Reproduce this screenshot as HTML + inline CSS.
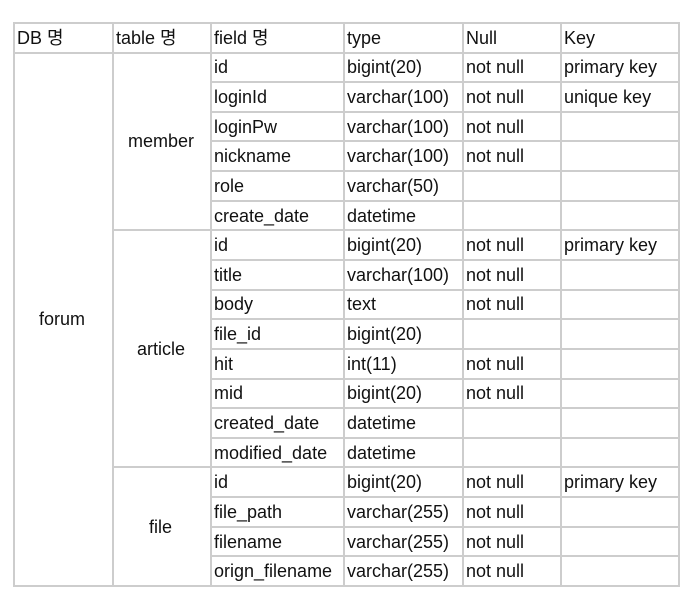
<!DOCTYPE html>
<html><head><meta charset="utf-8"><style>
body{margin:0;background:#fff;width:699px;height:601px;overflow:hidden}
table{position:absolute;left:13px;top:22px;border-collapse:collapse;font-family:"Liberation Sans","Noto Sans CJK KR",sans-serif;font-size:18px;color:#111;table-layout:fixed}
tr{height:29.65px}
td{border:2px solid #cdcdcd;padding:0 0 0 2px;white-space:nowrap;overflow:hidden;line-height:20px}
td.c{padding-left:14px}
</style></head><body>
<table>
<colgroup><col style="width:99px"><col style="width:98px"><col style="width:133px"><col style="width:119px"><col style="width:98px"><col style="width:118px"></colgroup>
<tr style="height:29.5px"><td>DB 명</td><td>table 명</td><td>field 명</td><td>type</td><td>Null</td><td>Key</td></tr>
<tr><td rowspan="18" class="c" style="padding-left:24px">forum</td><td rowspan="6" class="c">member</td><td>id</td><td>bigint(20)</td><td>not null</td><td>primary key</td></tr>
<tr><td>loginId</td><td>varchar(100)</td><td>not null</td><td>unique key</td></tr>
<tr><td>loginPw</td><td>varchar(100)</td><td>not null</td><td></td></tr>
<tr><td>nickname</td><td>varchar(100)</td><td>not null</td><td></td></tr>
<tr><td>role</td><td>varchar(50)</td><td></td><td></td></tr>
<tr><td>create_date</td><td>datetime</td><td></td><td></td></tr>
<tr><td rowspan="8" class="c" style="padding-left:23px">article</td><td>id</td><td>bigint(20)</td><td>not null</td><td>primary key</td></tr>
<tr><td>title</td><td>varchar(100)</td><td>not null</td><td></td></tr>
<tr><td>body</td><td>text</td><td>not null</td><td></td></tr>
<tr><td>file_id</td><td>bigint(20)</td><td></td><td></td></tr>
<tr><td>hit</td><td>int(11)</td><td>not null</td><td></td></tr>
<tr><td>mid</td><td>bigint(20)</td><td>not null</td><td></td></tr>
<tr><td>created_date</td><td>datetime</td><td></td><td></td></tr>
<tr><td>modified_date</td><td>datetime</td><td></td><td></td></tr>
<tr><td rowspan="4" class="c" style="padding-left:35px">file</td><td>id</td><td>bigint(20)</td><td>not null</td><td>primary key</td></tr>
<tr><td>file_path</td><td>varchar(255)</td><td>not null</td><td></td></tr>
<tr><td>filename</td><td>varchar(255)</td><td>not null</td><td></td></tr>
<tr><td>orign_filename</td><td>varchar(255)</td><td>not null</td><td></td></tr>
</table>
</body></html>
